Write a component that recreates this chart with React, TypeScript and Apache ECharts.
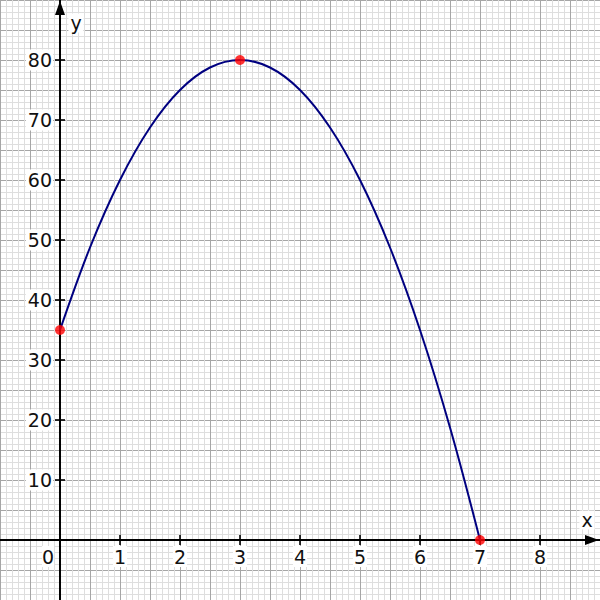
import React, { useEffect, useRef } from 'react';
import * as echarts from 'echarts';

const curveX = [0, 0.5, 1, 1.5, 2, 2.5, 3, 3.5, 4, 4.5, 5, 5.5, 6, 6.5, 7];
const curveY = [35, 48.75, 60, 68.75, 75, 78.75, 80, 78.75, 75, 68.75, 60, 48.75, 35, 18.75, 0];
const pointX = [0, 3, 7];
const pointY = [35, 80, 0];
const xTicks = [1, 2, 3, 4, 5, 6, 7, 8];
const yTicks = [10, 20, 30, 40, 50, 60, 70, 80];
const xRange = [-1, 9];
const yRange = [-10, 90];
const xName = 'x';
const yName = 'y';

const FONT = 'DejaVu Sans, Verdana, sans-serif';
const MINOR = '#dedede';
const MAJOR = '#a6a6a6';
const TEXT = '#111111';

function gridAxis(min: number, max: number, interval: number, color: string) {
  return {
    type: 'value',
    min,
    max,
    interval,
    position: 'bottom',
    axisLine: { show: false, onZero: false },
    axisTick: { show: false },
    axisLabel: { show: false },
    splitLine: { show: true, lineStyle: { color, width: 1 } },
  };
}

export default function App() {
  const ref = useRef<HTMLDivElement>(null);
  useEffect(() => {
    if (!ref.current) return;
    const chart = echarts.init(ref.current, null, { renderer: 'svg' });
    const labelStyle = { fontFamily: FONT, fontSize: 19, color: TEXT };
    const W = 600;
    const H = 600;
    // pixel offset of the zero line from the grid's bottom / left edge
    const xZeroOffset = -((0 - yRange[0]) / (yRange[1] - yRange[0])) * H;
    const yZeroOffset = -((0 - xRange[0]) / (xRange[1] - xRange[0])) * W;
    const option: any = {
      animation: false,
      backgroundColor: '#ffffff',
      grid: { left: 0, right: 0, top: 0, bottom: 0, containLabel: false, outerBoundsMode: 'none' },
      xAxis: [
        gridAxis(xRange[0], xRange[1], 0.1, MINOR),
        gridAxis(xRange[0], xRange[1], 0.5, MAJOR),
        {
          type: 'value',
          min: xRange[0],
          max: xRange[1],
          interval: 1,
          position: 'bottom',
          offset: xZeroOffset,
          axisLine: {
            show: true,
            onZero: false,
            symbol: ['none', 'triangle'],
            symbolSize: [10, 14],
            symbolOffset: [0, -8],
            lineStyle: { color: '#000', width: 2 },
          },
          axisTick: { show: false },
          splitLine: { show: false },
          axisLabel: {
            ...labelStyle,
            margin: 6,
            showMinLabel: true,
            showMaxLabel: true,
            formatter: (v: number) =>
              v === 0 ? '{z|0}{s| }' : xTicks.includes(v) ? `{n|${v}}` : '',
            rich: {
              z: { ...labelStyle, backgroundColor: '#fff', padding: [1, 0, 1, 0] },
              s: { ...labelStyle, width: 24 },
              n: { ...labelStyle, backgroundColor: '#fff', padding: [1, 1, 1, 1] },
            },
          },
        },
      ],
      yAxis: [
        { ...gridAxis(yRange[0], yRange[1], 1, MINOR), position: 'left' },
        { ...gridAxis(yRange[0], yRange[1], 5, MAJOR), position: 'left' },
        {
          type: 'value',
          min: yRange[0],
          max: yRange[1],
          interval: 10,
          position: 'left',
          offset: yZeroOffset,
          axisLine: {
            show: true,
            onZero: false,
            symbol: ['none', 'triangle'],
            symbolSize: [10, 14],
            symbolOffset: [0, -8],
            lineStyle: { color: '#000', width: 2 },
          },
          axisTick: { show: false },
          splitLine: { show: false },
          axisLabel: {
            ...labelStyle,
            margin: 7,
            formatter: (v: number) => (yTicks.includes(v) ? `{n|${v}}` : ''),
            rich: {
              n: { ...labelStyle, backgroundColor: '#fff', padding: [1, 1, 1, 2] },
            },
          },
        },
      ],
      graphic: [
        {
          type: 'text',
          x: 76,
          y: 23,
          z: 10,
          style: {
            text: yName,
            font: `19px ${FONT}`,
            fill: TEXT,
            align: 'center',
            verticalAlign: 'middle',
            backgroundColor: '#fff',
            padding: [0, 2],
          },
        },
        {
          type: 'text',
          x: 587,
          y: 520,
          z: 10,
          style: {
            text: xName,
            font: `19px ${FONT}`,
            fill: TEXT,
            align: 'center',
            verticalAlign: 'middle',
            backgroundColor: '#fff',
            padding: [0, 2],
          },
        },
      ],
      series: [
        {
          type: 'scatter',
          xAxisIndex: 2,
          yAxisIndex: 2,
          symbol: 'rect',
          symbolSize: [2, 10],
          itemStyle: { color: '#000' },
          silent: true,
          data: xTicks.map((x) => [x, 0]),
          z: 3,
        },
        {
          type: 'scatter',
          xAxisIndex: 2,
          yAxisIndex: 2,
          symbol: 'rect',
          symbolSize: [10, 2],
          itemStyle: { color: '#000' },
          silent: true,
          data: yTicks.map((y) => [0, y]),
          z: 3,
        },
        {
          type: 'line',
          xAxisIndex: 2,
          yAxisIndex: 2,
          smooth: 0.35,
          showSymbol: false,
          lineStyle: { color: '#000080', width: 2 },
          data: curveX.map((x, i) => [x, curveY[i]]),
          z: 4,
        },
        {
          type: 'scatter',
          xAxisIndex: 2,
          yAxisIndex: 2,
          symbol: 'circle',
          symbolSize: 10,
          itemStyle: { color: '#ff0000' },
          data: pointX.map((x, i) => [x, pointY[i]]),
          z: 5,
        },
      ],
    };
    chart.setOption(option);
    return () => chart.dispose();
  }, []);
  return (
    <div
      ref={ref}
      style={{ position: 'fixed', left: 0, top: 0, width: 600, height: 600 }}
    />
  );
}
